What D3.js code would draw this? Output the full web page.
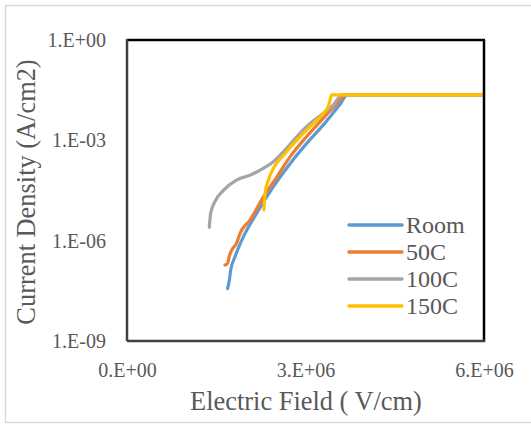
<!DOCTYPE html>
<html>
<head>
<meta charset="utf-8">
<script src="https://cdn.jsdelivr.net/npm/d3@7"></script>
<style>
  html, body { margin: 0; padding: 0; background: #fff; }
  svg { display: block; }
</style>
</head>
<body>
<svg id="chart" width="531" height="424"></svg>
<script>
// Current density vs electric field at four temperatures
const seriesNames = ["Room", "50C", "100C", "150C"];
const seriesColors = ["#5B9BD5", "#ED7D31", "#A5A5A5", "#FFC000"];

// Electric field (V/cm), current density (A/cm2)
const roomField = [1.69e6, 1.72e6, 1.742e6, 1.815e6, 1.955e6, 2.18e6, 2.46e6, 2.74e6, 3.02e6, 3.30e6, 3.58e6, 3.70e6, 6.0e6];
const roomCurrent = [3.7e-8, 6.6e-8, 1.3e-7, 3.3e-7, 1.3e-6, 6.6e-6, 4.1e-5, 2.0e-4, 8.1e-4, 2.9e-3, 1.2e-2, 2.3e-2, 2.3e-2];

const c50Field = [1.647e6, 1.69e6, 1.72e6, 1.76e6, 1.84e6, 1.90e6, 2.07e6, 2.29e6, 2.52e6, 2.74e6, 3.02e6, 3.30e6, 3.58e6, 3.66e6, 6.0e6];
const c50Current = [1.86e-7, 2.1e-7, 3.5e-7, 5.2e-7, 8.3e-7, 1.66e-6, 4.2e-6, 2.0e-5, 8.1e-5, 3.2e-4, 1.3e-3, 4.6e-3, 1.6e-2, 2.3e-2, 2.3e-2];

const c100Field = [1.383e6, 1.406e6, 1.48e6, 1.62e6, 1.84e6, 2.07e6, 2.29e6, 2.46e6, 2.63e6, 2.80e6, 3.02e6, 3.30e6, 3.47e6, 3.55e6, 3.60e6, 6.0e6];
const c100Current = [2.5e-6, 6.6e-6, 1.5e-5, 3.2e-5, 6.5e-5, 9.1e-5, 1.45e-4, 2.3e-4, 4.6e-4, 1.0e-3, 2.6e-3, 6.5e-3, 1.15e-2, 1.8e-2, 2.3e-2, 2.3e-2];

const c150Field = [2.30e6, 2.32e6, 2.375e6, 2.46e6, 2.63e6, 2.85e6, 3.08e6, 3.30e6, 3.38e6, 3.40e6, 3.44e6, 6.0e6];
const c150Current = [8.3e-6, 2.6e-5, 6.5e-5, 1.45e-4, 3.6e-4, 1.0e-3, 2.6e-3, 6.5e-3, 1.0e-2, 1.3e-2, 2.3e-2, 2.3e-2];

const xTicks = [0, 3e6, 6e6];
const xTickLabels = ["0.E+00", "3.E+06", "6.E+06"];
const yTicks = [1e-9, 1e-6, 1e-3, 1];
const yTickLabels = ["1.E-09", "1.E-06", "1.E-03", "1.E+00"];

const fieldData = [roomField, c50Field, c100Field, c150Field];
const currentData = [roomCurrent, c50Current, c100Current, c150Current];

const svg = d3.select("#chart");
const font = "'Liberation Serif', 'Times New Roman', serif";
const textColor = "#595959";

// chart border
svg.append("rect")
  .attr("x", 5.5).attr("y", 5.5)
  .attr("width", 530).attr("height", 417)
  .attr("fill", "#fff").attr("stroke", "#D9D9D9").attr("stroke-width", 1.5);

const plot = { left: 127, right: 484, top: 40, bottom: 341 };

const x = d3.scaleLinear().domain([0, 6e6]).range([plot.left, plot.right]);
const y = d3.scaleLog().domain([1e-9, 1]).range([plot.bottom, plot.top]);

// axes (labels only)
const xAxis = d3.axisBottom(x).tickValues(xTicks).tickSize(0)
  .tickFormat((d, i) => xTickLabels[i]);
const gx = svg.append("g").attr("transform", `translate(0,${plot.bottom})`).call(xAxis);
gx.select(".domain").remove();
gx.selectAll("text").attr("y", 36).attr("dy", null)
  .attr("font-family", font).attr("font-size", 20).attr("fill", textColor);

const yAxis = d3.axisLeft(y).tickValues(yTicks).tickSize(0)
  .tickFormat(d => yTickLabels[yTicks.indexOf(d)]);
const gy = svg.append("g").attr("transform", `translate(${plot.left},0)`).call(yAxis);
gy.select(".domain").remove();
gy.selectAll("text").attr("x", -21).attr("dy", "0.33em")
  .attr("font-family", font).attr("font-size", 20).attr("fill", textColor);

// axis titles
svg.append("text")
  .attr("x", 306).attr("y", 410)
  .attr("text-anchor", "middle")
  .attr("font-family", font).attr("font-size", 26.4).attr("fill", textColor)
  .text("Electric Field ( V/cm)");

svg.append("text")
  .attr("transform", "translate(35,192) rotate(-90)")
  .attr("text-anchor", "middle")
  .attr("font-family", font).attr("font-size", 26.4).attr("fill", textColor)
  .text("Current Density (A/cm2)");

// series curves
svg.append("clipPath").attr("id", "plotclip").append("rect")
  .attr("x", plot.left).attr("y", plot.top)
  .attr("width", plot.right - plot.left).attr("height", plot.bottom - plot.top);

const line = d3.line().x(d => x(d[0])).y(d => y(d[1])).curve(d3.curveMonotoneX);

const curves = svg.append("g").attr("clip-path", "url(#plotclip)");
seriesNames.forEach((name, i) => {
  const pts = fieldData[i].map((f, j) => [f, currentData[i][j]]);
  curves.append("path")
    .attr("d", line(pts))
    .attr("fill", "none")
    .attr("stroke", seriesColors[i])
    .attr("stroke-width", 3.2)
    .attr("stroke-linejoin", "round")
    .attr("stroke-linecap", "round");
});

// plot frame
svg.append("line").attr("x1", plot.left).attr("x2", plot.right + 1).attr("y1", plot.top).attr("y2", plot.top)
  .attr("stroke", "#000").attr("stroke-width", 2.5);
svg.append("line").attr("x1", plot.right).attr("x2", plot.right).attr("y1", plot.top).attr("y2", plot.bottom + 1)
  .attr("stroke", "#000").attr("stroke-width", 2.5);
svg.append("line").attr("x1", plot.left).attr("x2", plot.left).attr("y1", plot.top - 1).attr("y2", plot.bottom)
  .attr("stroke", "#404040").attr("stroke-width", 2.5);
svg.append("line").attr("x1", plot.left).attr("x2", plot.right + 1).attr("y1", plot.bottom).attr("y2", plot.bottom)
  .attr("stroke", "#404040").attr("stroke-width", 2.5);

// legend
const legend = svg.append("g");
seriesNames.forEach((name, i) => {
  const ly = 225 + i * 27;
  legend.append("line")
    .attr("x1", 349).attr("x2", 402).attr("y1", ly).attr("y2", ly)
    .attr("stroke", seriesColors[i]).attr("stroke-width", 3.5).attr("stroke-linecap", "round");
  legend.append("text")
    .attr("x", 406).attr("y", ly + 8)
    .attr("font-family", font).attr("font-size", 24).attr("fill", textColor)
    .text(name);
});
</script>
</body>
</html>
